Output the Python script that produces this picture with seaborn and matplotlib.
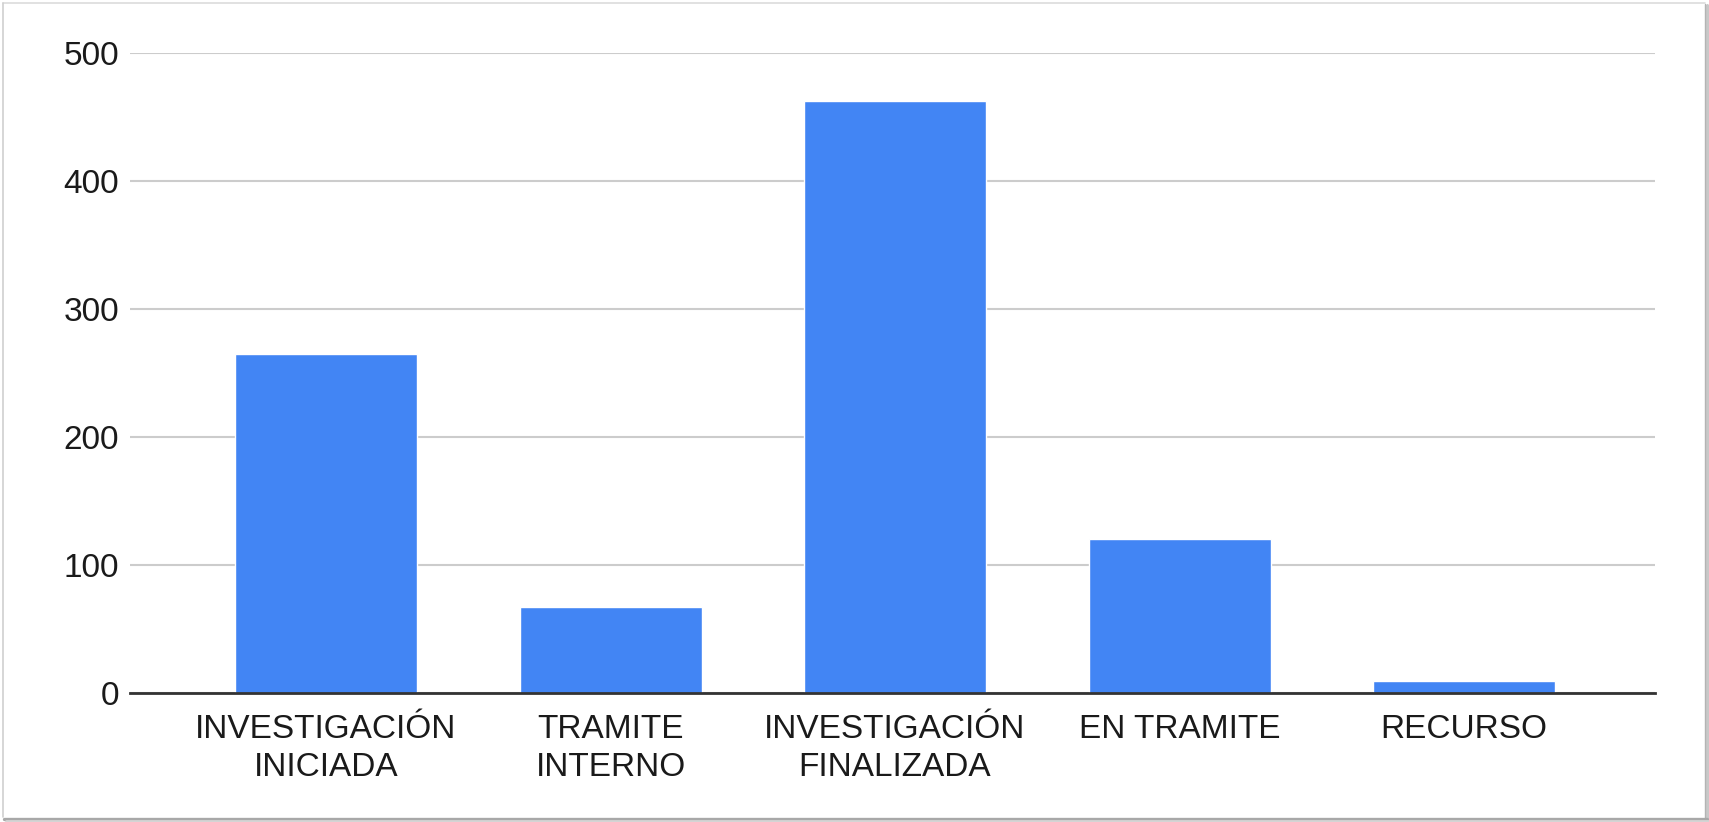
import matplotlib
matplotlib.use("Agg")
import matplotlib.pyplot as plt
import seaborn as sns
import pandas as pd
from matplotlib.lines import Line2D

categories = ["INVESTIGACIÓN\nINICIADA", "TRAMITE\nINTERNO", "INVESTIGACIÓN\nFINALIZADA", "EN TRAMITE", "RECURSO"]
values = [265, 67, 462, 120, 9]
yticks = [0, 100, 200, 300, 400, 500]

sns.set_theme(style="white")
plt.rcParams['font.family'] = ['Liberation Sans', 'DejaVu Sans']

df = pd.DataFrame({"cat": categories, "val": values})

W, H = 1709, 822
fig = plt.figure(figsize=(W / 100, H / 100), dpi=100)
fig.patch.set_facecolor("white")
left, right, top, bottom = 130, 1655, 52.7, 692.7
ax = fig.add_axes([left / W, 1 - bottom / H, (right - left) / W, (bottom - top) / H])

sns.barplot(data=df, x="cat", y="val", color="#4285F4", saturation=1, width=0.64, ax=ax, zorder=3)

ax.set_xlim(-0.689, 4.671)
ax.set_ylim(0, 500)
ax.set_yticks(yticks)
ax.set_yticklabels([str(t) for t in yticks])
ax.set_xlabel("")
ax.set_ylabel("")
ax.grid(axis="y", color="#cccccc", linewidth=1.5, zorder=0)
ax.set_axisbelow(True)
for s in ["top", "right", "left"]:
    ax.spines[s].set_visible(False)
ax.spines["bottom"].set_color("#333333")
ax.spines["bottom"].set_linewidth(2)
ax.spines["bottom"].set_zorder(4)
ax.tick_params(axis="x", length=0, pad=15, labelsize=24, labelcolor="#1a1a1a")
ax.tick_params(axis="y", length=0, pad=8, labelsize=24, labelcolor="#1a1a1a")
for lbl in ax.get_xticklabels():
    lbl.set_linespacing(1.32)

# frame with soft shadow (figure pixel coordinates)
def px(x, y):
    return x / W, 1 - y / H

def fline(x0, y0, x1, y1, color, lw):
    (a, b), (c, d) = px(x0, y0), px(x1, y1)
    fig.add_artist(Line2D([a, c], [b, d], transform=fig.transFigure, color=color, linewidth=lw))

fline(3, 3, 1705, 3, "#dcdcdc", 1.2)
fline(3, 3, 3, 817, "#d0d0d0", 1.2)
fline(1706.5, 5, 1706.5, 819, "#c8c8c8", 2.2)
fline(1705, 4, 1705, 818, "#b4b4b4", 1.0)
fline(4, 818.5, 1707, 818.5, "#a8a8a8", 2.4)
fline(6, 820.5, 1708, 820.5, "#d4d4d4", 2.0)

fig.savefig("out.png", dpi=100, facecolor="white")
